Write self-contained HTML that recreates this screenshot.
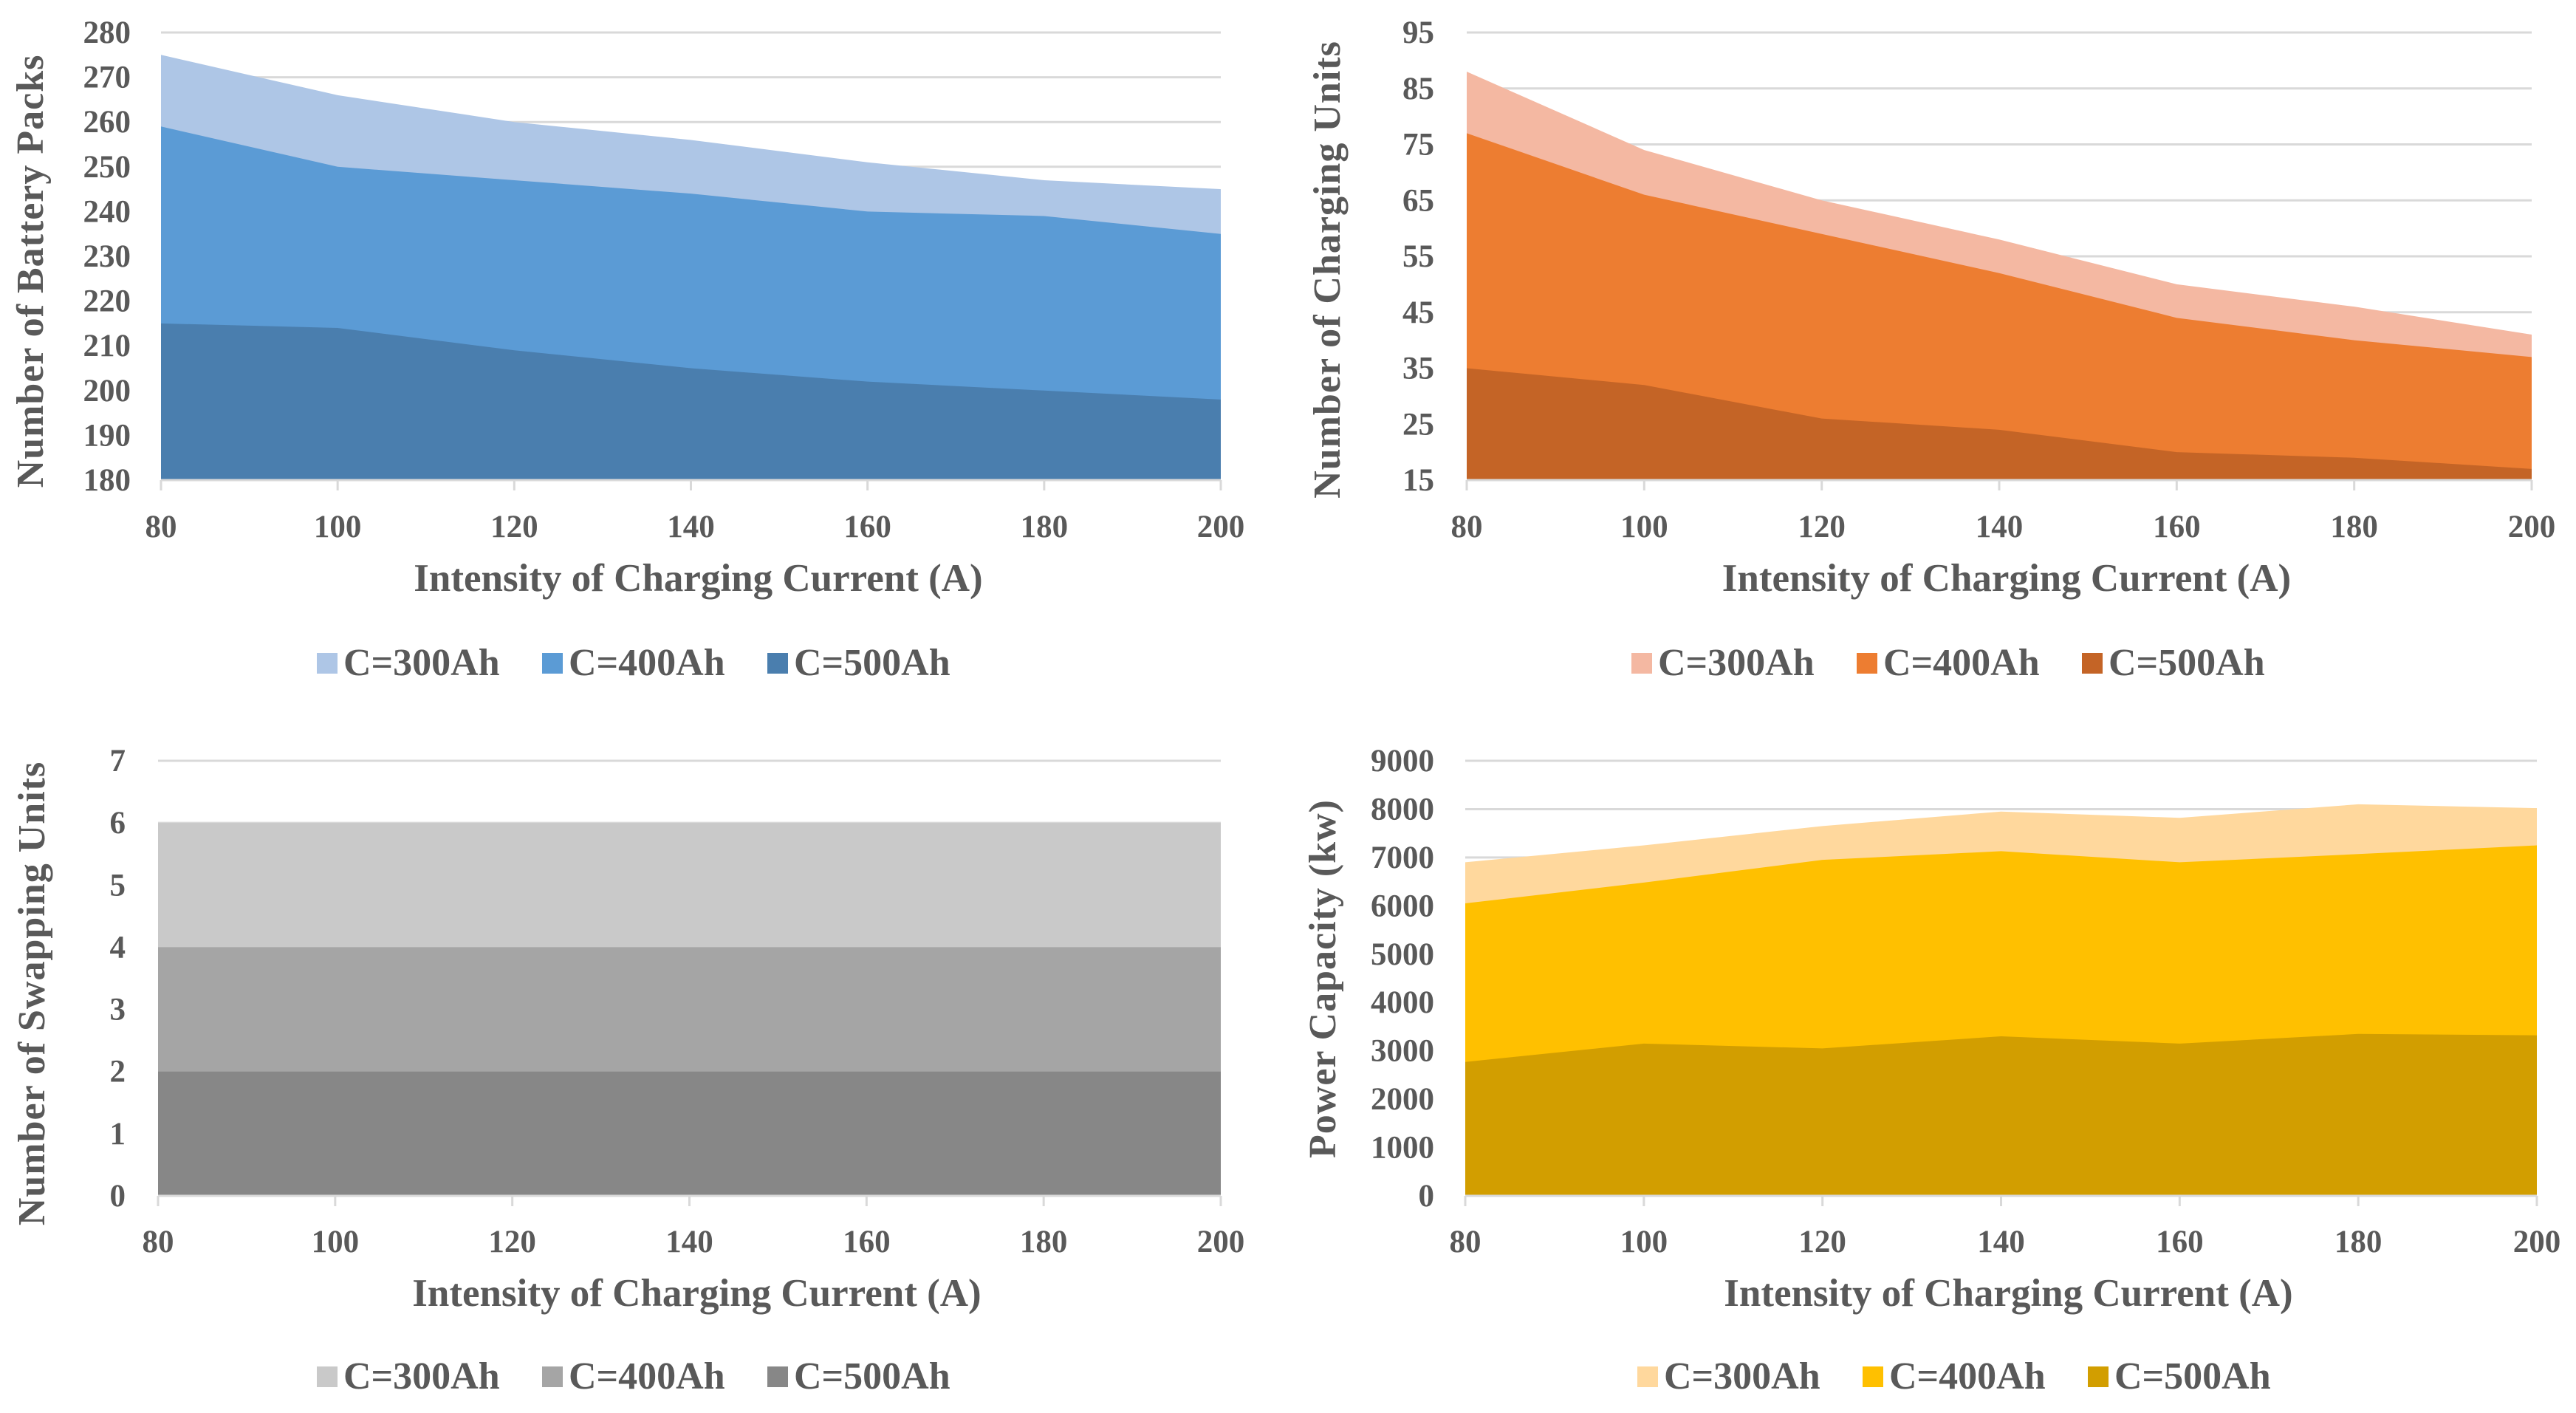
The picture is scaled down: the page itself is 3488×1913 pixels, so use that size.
<!DOCTYPE html>
<html><head><meta charset="utf-8"><style>
html,body{margin:0;padding:0;background:#fff;}
svg{display:block;}
text{font-family:"Liberation Serif",serif;font-weight:bold;fill:#595959;}
</style></head><body>
<svg id="chart" width="3488" height="1913" viewBox="0 0 3488 1913" xmlns="http://www.w3.org/2000/svg"></svg>
<script>
const xCategories = [80, 100, 120, 140, 160, 180, 200];
const seriesNames = ["C=300Ah", "C=400Ah", "C=500Ah"];

const packs300 = [275, 266, 260, 256, 251, 247, 245];
const packs400 = [259, 250, 247, 244, 240, 239, 235];
const packs500 = [215, 214, 209, 205, 202, 200, 198];
const packTicks = [180, 190, 200, 210, 220, 230, 240, 250, 260, 270, 280];

const units300 = [88, 74, 65, 58, 50, 46, 41];
const units400 = [77, 66, 59, 52, 44, 40, 37];
const units500 = [35, 32, 26, 24, 20, 19, 17];
const unitTicks = [15, 25, 35, 45, 55, 65, 75, 85, 95];

const swap300 = [6, 6, 6, 6, 6, 6, 6];
const swap400 = [4, 4, 4, 4, 4, 4, 4];
const swap500 = [2, 2, 2, 2, 2, 2, 2];
const swapTicks = [0, 1, 2, 3, 4, 5, 6, 7];

const power300 = [6900, 7250, 7650, 7950, 7820, 8100, 8020];
const power400 = [6050, 6480, 6950, 7130, 6900, 7070, 7250];
const power500 = [2770, 3150, 3050, 3300, 3150, 3350, 3320];
const powerTicks = [0, 1000, 2000, 3000, 4000, 5000, 6000, 7000, 8000, 9000];

const svg = document.getElementById('chart');
const NS = 'http://www.w3.org/2000/svg';
function mk(tag, attrs, parent) {
  const e = document.createElementNS(NS, tag);
  for (const k in attrs) e.setAttribute(k, attrs[k]);
  (parent || svg).appendChild(e);
  return e;
}

function drawChart(cfg) {
  const g = mk('g', {});
  
  
  const yMin = cfg.ticks[0], yMax = cfg.ticks[cfg.ticks.length - 1];
  const xMin = xCategories[0], xMax = xCategories[xCategories.length - 1];
  const xs = v => cfg.L + (v - xMin) / (xMax - xMin) * (cfg.R - cfg.L);
  const ys = v => cfg.B - (v - yMin) / (yMax - yMin) * (cfg.B - cfg.T);
  cfg.ticks.forEach((t, i) => {
    if (i === 0) return;
    const ln = mk('line', {x1: cfg.L, x2: cfg.R, y1: ys(t), y2: ys(t), stroke: '#d9d9d9', 'stroke-width': 3}, g);
    
    
  });
  cfg.series.forEach((s, si) => {
    let d = 'M' + xs(xCategories[0]) + ',' + ys(yMin);
    s.forEach((v, i) => { d += ' L' + xs(xCategories[i]) + ',' + ys(v); });
    d += ' L' + xs(xCategories[xCategories.length - 1]) + ',' + ys(yMin) + ' Z';
    const p = mk('path', {d: d, fill: cfg.colors[si]}, g);
    
    
  });
  const ax = mk('line', {x1: cfg.L, x2: cfg.R, y1: cfg.B, y2: cfg.B, stroke: '#d9d9d9', 'stroke-width': 3}, g);
  
  
  xCategories.forEach(c => {
    const tk = mk('line', {x1: xs(c), x2: xs(c), y1: cfg.B, y2: cfg.B + 14, stroke: '#d9d9d9', 'stroke-width': 3}, g);
    
    
    const t = mk('text', {x: xs(c), y: cfg.xLabelY, 'text-anchor': 'middle', 'font-size': 43}, g);
    t.textContent = c;
    
    
  });
  cfg.ticks.forEach(tv => {
    const t = mk('text', {x: cfg.yLabelX, y: ys(tv) + 14, 'text-anchor': 'end', 'font-size': 43}, g);
    t.textContent = tv;
    
    
  });
  const xt = mk('text', {x: (cfg.L + cfg.R) / 2 + 10, y: cfg.xTitleY, 'text-anchor': 'middle', 'font-size': 53}, g);
  xt.textContent = 'Intensity of  Charging Current (A)';
  
  
  const yt = mk('text', {x: 0, y: 0, 'text-anchor': 'middle', 'font-size': 52, 'letter-spacing': 1, transform: 'translate(' + cfg.yTitleX + ',' + cfg.yTitleY + ') rotate(-90)'}, g);
  yt.textContent = cfg.yTitle;
  
  
  seriesNames.forEach((n, i) => {
    const lx = cfg.legendX + i * 305;
    const r = mk('rect', {x: lx, y: cfg.legendY - 30, width: 28, height: 28, fill: cfg.colors[i]}, g);
    
    
    const t = mk('text', {x: lx + 36, y: cfg.legendY, 'font-size': 52}, g);
    t.textContent = n;
    
    
  });
}

drawChart({name: 'battery-packs-chart', L: 218, R: 1653, T: 44, B: 650, ticks: packTicks,
  series: [packs300, packs400, packs500], colors: ['#aec6e6', '#5b9bd5', '#4a7eae'],
  xLabelY: 727, xTitleY: 800, yLabelX: 177, yTitleX: 58, yTitleY: 367, yTitle: 'Number of Battery Packs',
  legendX: 429, legendY: 914});
drawChart({name: 'charging-units-chart', L: 1986, R: 3428, T: 44, B: 650, ticks: unitTicks,
  series: [units300, units400, units500], colors: ['#f4b8a2', '#ed7d31', '#c46426'],
  xLabelY: 727, xTitleY: 800, yLabelX: 1942, yTitleX: 1814, yTitleY: 365, yTitle: 'Number of Charging Units',
  legendX: 2209, legendY: 914});
drawChart({name: 'swapping-units-chart', L: 214, R: 1653, T: 1030, B: 1619, ticks: swapTicks,
  series: [swap300, swap400, swap500], colors: ['#c9c9c9', '#a5a5a5', '#878787'],
  xLabelY: 1695, xTitleY: 1768, yLabelX: 170, yTitleX: 60, yTitleY: 1345, yTitle: 'Number of Swapping Units',
  legendX: 429, legendY: 1880});
drawChart({name: 'power-capacity-chart', L: 1984, R: 3435, T: 1030, B: 1619, ticks: powerTicks,
  series: [power300, power400, power500], colors: ['#ffd89d', '#ffc000', '#d29e00'],
  xLabelY: 1695, xTitleY: 1768, yLabelX: 1942, yTitleX: 1808, yTitleY: 1325, yTitle: 'Power Capacity (kw)',
  legendX: 2217, legendY: 1880});
</script>
</body></html>
